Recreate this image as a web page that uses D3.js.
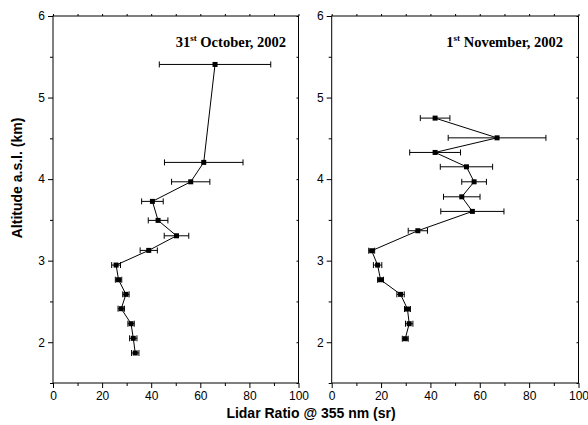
<!DOCTYPE html>
<html><head><meta charset="utf-8">
<script src="https://cdn.jsdelivr.net/npm/d3@7"></script>
<style>body{margin:0;background:#fff}svg{display:block}</style>
</head><body>
<script>
// Data
const octAlt = [5.406, 4.205, 3.967, 3.727, 3.494, 3.305, 3.126, 2.946, 2.766, 2.587, 2.411, 2.227, 2.048, 1.868];
const octLR  = [66.0, 61.4, 56.1, 40.5, 42.8, 50.3, 39.0, 25.7, 26.7, 29.7, 27.8, 31.8, 32.7, 33.5];
const octErr = [22.7, 16.0, 7.8, 4.4, 4.0, 5.0, 3.5, 1.8, 1.3, 1.3, 1.3, 1.3, 1.5, 1.5];

const novAlt = [4.748, 4.506, 4.327, 4.151, 3.967, 3.783, 3.604, 3.367, 3.122, 2.946, 2.766, 2.587, 2.407, 2.227, 2.043];
const novLR  = [41.9, 67.0, 41.9, 54.6, 57.7, 52.7, 57.0, 34.9, 16.2, 18.6, 19.8, 27.9, 30.7, 31.4, 29.8];
const novErr = [6.0, 19.8, 10.3, 10.6, 5.0, 7.4, 12.8, 3.9, 1.2, 1.7, 1.2, 1.5, 1.2, 1.5, 1.2];

const xMajor = [0, 20, 40, 60, 80, 100];
const xMinor = [10, 30, 50, 70, 90];
const yMajor = [2, 3, 4, 5, 6];
const yMinor = [1.5, 2.5, 3.5, 4.5, 5.5];

const panels = [
  {day: "31", sup: "st", rest: " October, 2002", alt: octAlt, lr: octLR, err: octErr, x0: 53, x1: 298.5, tx: 286},
  {day: "1", sup: "st", rest: " November, 2002", alt: novAlt, lr: novLR, err: novErr, x0: 331.7, x1: 578.5, tx: 563}
];

const W = 588, H = 425;
const yTop = 16, yBot = 383;
const svg = d3.select("body").append("svg").attr("width", W).attr("height", H);
const sans = "'Liberation Sans', Arial, sans-serif";
const serif = "'Liberation Serif', 'Times New Roman', serif";

const y = d3.scaleLinear().domain([1.5, 6]).range([yBot, yTop]);

panels.forEach(p => {
  const x = d3.scaleLinear().domain([0, 100]).range([p.x0, p.x1]);
  const g = svg.append("g");

  // frame
  g.append("rect").attr("x", p.x0).attr("y", yTop).attr("width", p.x1 - p.x0).attr("height", yBot - yTop)
    .attr("fill", "none").attr("stroke", "#000").attr("stroke-width", 1);

  // bottom axis
  const bx = g.append("g").attr("transform", `translate(0,${yBot})`)
    .call(d3.axisBottom(x).tickValues(xMajor).tickSize(5).tickSizeOuter(0).tickPadding(3).tickFormat(d3.format("d")));
  bx.select(".domain").remove();
  bx.selectAll("text").attr("font-family", sans).attr("font-size", 12).attr("fill", "#000");
  g.append("g").attr("transform", `translate(0,${yBot})`)
    .call(d3.axisBottom(x).tickValues(xMinor).tickSize(3).tickFormat(""))
    .select(".domain").remove();

  // top ticks (mirror)
  g.append("g").attr("transform", `translate(0,${yTop})`)
    .call(d3.axisTop(x).tickValues(xMajor.concat(xMinor)).tickSize(2).tickFormat(""))
    .select(".domain").remove();

  // left axis
  const ly = g.append("g").attr("transform", `translate(${p.x0},0)`)
    .call(d3.axisLeft(y).tickValues(yMajor).tickSize(5).tickPadding(3).tickFormat(d3.format("d")));
  ly.select(".domain").remove();
  ly.selectAll("text").attr("font-family", sans).attr("font-size", 12).attr("fill", "#000");
  g.append("g").attr("transform", `translate(${p.x0},0)`)
    .call(d3.axisLeft(y).tickValues(yMinor).tickSize(3).tickFormat(""))
    .select(".domain").remove();

  // right ticks (mirror, inward)
  g.append("g").attr("transform", `translate(${p.x1},0)`)
    .call(d3.axisLeft(y).tickValues(yMajor.concat(yMinor)).tickSize(2).tickFormat(""))
    .select(".domain").remove();

  const data = p.alt.map((a, i) => ({a, v: p.lr[i], e: p.err[i]}));

  // error bars
  const eb = g.append("g").attr("stroke", "#000").attr("stroke-width", 1);
  data.forEach(d => {
    const yy = y(d.a), xl = x(d.v - d.e), xr = x(d.v + d.e);
    eb.append("line").attr("x1", xl).attr("x2", xr).attr("y1", yy).attr("y2", yy);
    eb.append("line").attr("x1", xl).attr("x2", xl).attr("y1", yy - 3).attr("y2", yy + 3);
    eb.append("line").attr("x1", xr).attr("x2", xr).attr("y1", yy - 3).attr("y2", yy + 3);
  });

  // line
  g.append("path").datum(data)
    .attr("d", d3.line().x(d => x(d.v)).y(d => y(d.a)))
    .attr("fill", "none").attr("stroke", "#000").attr("stroke-width", 1);

  // markers
  g.selectAll(".m").data(data).enter().append("rect")
    .attr("x", d => x(d.v) - 2.5).attr("y", d => y(d.a) - 2.5)
    .attr("width", 5).attr("height", 5).attr("fill", "#000");

  // title
  const t = g.append("text").attr("x", p.tx).attr("y", 47).attr("text-anchor", "end")
    .attr("font-family", serif).attr("font-weight", "bold").attr("font-size", 14.5).attr("fill", "#000");
  t.append("tspan").text(p.day);
  t.append("tspan").attr("font-size", 9).attr("dy", -6).text(p.sup);
  t.append("tspan").attr("dy", 6).text(p.rest);
});

// axis titles
svg.append("text").attr("x", 311).attr("y", 418).attr("text-anchor", "middle")
  .attr("font-family", sans).attr("font-weight", "bold").attr("font-size", 14).text("Lidar Ratio @ 355 nm (sr)");
svg.append("text").attr("transform", "translate(22,178) rotate(-90)").attr("text-anchor", "middle")
  .attr("font-family", sans).attr("font-weight", "bold").attr("font-size", 14).text("Altitude a.s.l. (km)");
</script>
</body></html>
